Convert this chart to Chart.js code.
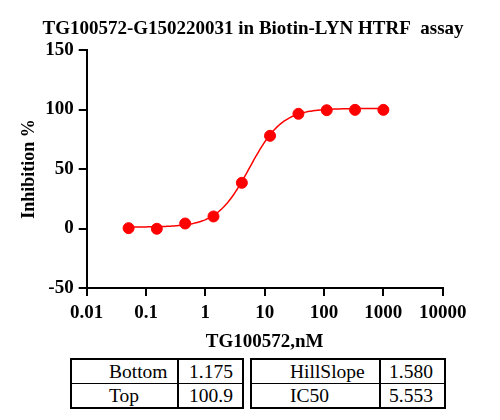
<!DOCTYPE html>
<html>
<head>
<meta charset="utf-8">
<script src="https://cdn.jsdelivr.net/npm/chart.js@4.4.1/dist/chart.umd.min.js"></script>
<style>
  body { margin: 0; background: #fff; }
  #wrap { position: relative; width: 500px; height: 420px; }
  #chart { position: absolute; left: 0; top: 0; }
  table.params {
    position: absolute; top: 358px; border-collapse: collapse;
    font-family: 'Liberation Serif', 'Times New Roman', serif; font-size: 19.5px; color: #000;
    border: 2px solid #000;
  }
  table.params td { padding: 0; height: 23px; border: 1px solid #000; line-height: 1; white-space: nowrap; }
  table.params td.name { border-right: 2px solid #000; }
</style>
</head>
<body>
<div id="wrap">
  <canvas id="chart" width="500" height="355"></canvas>
  <table class="params" id="tblLeft" style="left:70px; width:174px;"></table>
  <table class="params" id="tblRight" style="left:250px; width:196px;"></table>
</div>
<script>
// measured points (nM, % inhibition)
const concentrations = [0.0508, 0.152, 0.457, 1.37, 4.12, 12.3, 37.0, 111, 333, 1000];
const inhibition = [0.3, -0.2, 4.2, 10.1, 38.4, 77.9, 96.4, 99.4, 99.7, 99.7];

// 4PL fit parameters shown in the table
const fitBottom = 1.175;
const fitTop = 100.9;
const fitIC50 = 5.553;
const fitHillSlope = 1.580;

const xTicks = [0.01, 0.1, 1, 10, 100, 1000, 10000];
const xTickLabels = ['0.01', '0.1', '1', '10', '100', '1000', '10000'];
const yTicks = [-50, 0, 50, 100, 150];

const leftParamNames = ['Bottom', 'Top'];
const leftParamValues = ['1.175', '100.9'];
const rightParamNames = ['HillSlope', 'IC50'];
const rightParamValues = ['1.580', '5.553'];

const serif = "'Liberation Serif', 'Times New Roman', serif";
Chart.defaults.font.family = serif;
Chart.defaults.color = '#000';

// fitted curve from the fit parameters
const curve = [];
const lo = Math.log10(concentrations[0]);
const hi = Math.log10(concentrations[concentrations.length - 1]);
for (let i = 0; i <= 200; i++) {
  const x = Math.pow(10, lo + (hi - lo) * i / 200);
  const y = fitBottom + (fitTop - fitBottom) / (1 + Math.pow(fitIC50 / x, fitHillSlope));
  curve.push({ x: x, y: y });
}

const points = concentrations.map((c, i) => ({ x: c, y: inhibition[i] }));

const tickFont = { family: serif, size: 19, weight: 'bold' };

new Chart(document.getElementById('chart').getContext('2d'), {
  type: 'scatter',
  data: {
    datasets: [
      {
        label: 'fit',
        data: curve,
        showLine: true,
        borderColor: '#ff0000',
        borderWidth: 1.5,
        pointRadius: 0,
        order: 2
      },
      {
        label: 'data',
        data: points,
        backgroundColor: '#ff0000',
        borderColor: '#ff0000',
        pointRadius: 5.5,
        order: 1
      }
    ]
  },
  options: {
    responsive: false,
    animation: false,
    layout: { padding: { left: 6, right: 0, top: 0, bottom: 0 } },
    plugins: {
      legend: { display: false },
      tooltip: { enabled: false },
      title: {
        display: true,
        text: 'TG100572-G150220031 in Biotin-LYN HTRF  assay',
        color: '#000',
        font: { family: serif, size: 19, weight: 'bold', lineHeight: 1.2 },
        padding: { top: 17.6, bottom: 9.6 }
      }
    },
    scales: {
      x: {
        type: 'logarithmic',
        min: 0.01,
        max: 10000,
        afterBuildTicks: scale => { scale.ticks = xTicks.map(v => ({ value: v })); },
        afterFit: scale => { scale.height = 67; },
        ticks: {
          autoSkip: false,
          maxRotation: 0,
          padding: 6,
          color: '#000',
          font: tickFont,
          callback: value => xTickLabels[xTicks.indexOf(value)]
        },
        grid: { drawOnChartArea: false, drawTicks: true, tickLength: 8, color: '#000', lineWidth: 2 },
        border: { display: true, color: '#000', width: 2 },
        title: {
          display: true,
          text: 'TG100572,nM',
          color: '#000',
          font: { family: serif, size: 19, weight: 'bold', lineHeight: 1.2 },
          padding: { top: 0, bottom: 1.9 }
        }
      },
      y: {
        min: -50,
        max: 150,
        afterBuildTicks: scale => { scale.ticks = yTicks.map(v => ({ value: v })); },
        afterFit: scale => { scale.width = 80.7; },
        ticks: { padding: 5, color: '#000', font: tickFont },
        grid: { drawOnChartArea: false, drawTicks: true, tickLength: 8, color: '#000', lineWidth: 2 },
        border: { display: true, color: '#000', width: 2 },
        title: {
          display: true,
          text: 'Inhibition %',
          color: '#000',
          font: { family: serif, size: 18, weight: 'bold', lineHeight: 1.2 },
          padding: { top: 12.2, bottom: 0 }
        }
      },
      // empty right-hand box that keeps the plot area off the right edge
      spacer: {
        type: 'linear',
        position: 'right',
        display: true,
        afterFit: scale => { scale.width = 57.3; },
        ticks: { display: false },
        grid: { display: false },
        border: { display: false }
      }
    }
  }
});

// parameter tables
function fillTable(id, names, values, padName, padValue, nameWidth) {
  const tbl = document.getElementById(id);
  names.forEach((n, i) => {
    const tr = document.createElement('tr');
    const a = document.createElement('td');
    a.className = 'name';
    a.style.paddingLeft = padName + 'px';
    a.style.width = nameWidth + 'px';
    a.textContent = n;
    const b = document.createElement('td');
    b.style.paddingLeft = padValue + 'px';
    b.textContent = values[i];
    tr.appendChild(a);
    tr.appendChild(b);
    tbl.appendChild(tr);
  });
}
fillTable('tblLeft', leftParamNames, leftParamValues, 37, 10, 68);
fillTable('tblRight', rightParamNames, rightParamValues, 38, 8, 89);
</script>
</body>
</html>
